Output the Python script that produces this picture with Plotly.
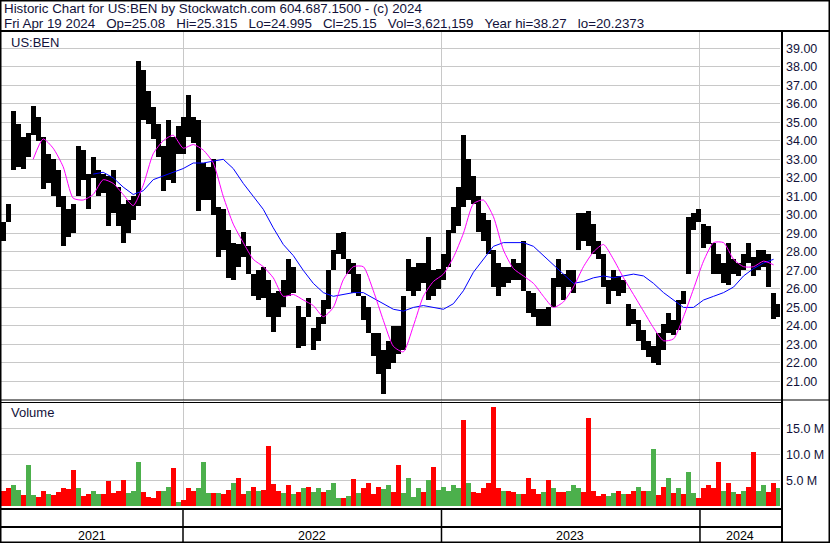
import pandas as pd
import plotly.graph_objects as go

W, H = 830, 543


def px(x):
    return x / W


def py(y):
    return 1 - y / H


# ---------------- data (weekly bins) ----------------
dates = pd.date_range("2021-04-22", "2024-04-21", periods=156)

highs = [29.6, 30.6, 35.6, 34.9, 34.2, 34.4, 35.9, 35.3, 34.2, 33.3,
         33.0, 32.4, 31.0, 30.3, 30.6, 33.7, 33.5, 32.2, 33.1, 32.4,
         32.2, 32.1, 32.4, 31.5, 30.6, 30.8, 31.0, 38.3, 37.8, 36.7,
         35.8, 34.9, 33.7, 35.1, 34.2, 34.8, 35.3, 36.5, 35.3, 35.1,
         32.8, 32.6, 33.0, 30.4, 30.3, 29.2, 28.5, 28.4, 29.1, 28.3,
         26.8, 27.0, 27.2, 26.5, 25.8, 25.9, 26.5, 27.6, 27.2, 25.1,
         24.5, 25.5, 23.9, 24.5, 25.4, 27.0, 28.1, 29.0, 29.1, 27.6,
         27.4, 26.8, 25.6, 25.0, 23.6, 23.6, 22.7, 23.2, 24.0, 24.0,
         25.6, 27.6, 27.2, 27.4, 27.4, 28.8, 27.0, 27.1, 27.9, 29.2,
         30.4, 31.5, 34.3, 33.0, 32.1, 31.0, 30.1, 29.7, 28.1, 27.4,
         27.2, 27.2, 27.6, 27.4, 28.6, 25.9, 25.8, 24.9, 24.9, 25.0,
         26.6, 27.6, 26.8, 27.0, 27.0, 30.1, 30.1, 30.2, 29.5, 28.6,
         27.9, 26.5, 27.0, 26.7, 26.5, 25.2, 24.9, 24.3, 23.8, 23.2,
         22.9, 23.6, 24.1, 24.7, 24.3, 25.4, 25.9, 29.9, 30.1, 30.3,
         29.5, 29.4, 28.5, 27.9, 27.4, 28.5, 27.6, 27.4, 27.9, 28.5,
         27.7, 28.1, 28.1, 27.9, 25.8, 25.2]

lows = [28.6, 29.6, 32.4, 32.6, 32.5, 33.1, 34.3, 34.0, 31.4, 31.7,
        31.0, 30.4, 28.3, 28.8, 29.0, 31.0, 31.9, 30.3, 32.0, 31.0,
        31.2, 29.4, 30.1, 29.4, 28.5, 29.0, 29.7, 30.5, 35.1, 34.9,
        34.1, 33.1, 31.3, 31.9, 31.7, 33.3, 33.3, 34.2, 33.9, 30.2,
        30.8, 30.8, 30.0, 27.7, 28.1, 26.6, 26.5, 27.2, 27.7, 26.8,
        25.6, 25.4, 25.5, 24.5, 23.7, 24.5, 25.0, 25.6, 25.8, 22.8,
        22.9, 24.5, 22.7, 23.2, 24.1, 24.9, 27.0, 27.9, 27.6, 26.8,
        25.8, 25.6, 24.3, 23.6, 22.4, 21.4, 20.3, 21.7, 22.0, 22.5,
        22.7, 25.9, 25.6, 25.9, 26.3, 25.4, 25.6, 26.0, 26.5, 27.2,
        29.0, 29.4, 30.4, 30.8, 30.6, 29.1, 28.6, 27.9, 26.1, 25.6,
        26.1, 26.3, 26.5, 26.5, 25.9, 24.7, 24.5, 24.0, 24.0, 24.0,
        25.0, 26.1, 25.4, 26.1, 25.8, 28.1, 28.6, 28.3, 27.9, 27.6,
        26.1, 25.2, 25.9, 25.6, 25.8, 24.0, 24.1, 23.2, 22.7, 22.3,
        22.0, 21.9, 22.7, 23.6, 23.5, 23.8, 25.2, 26.8, 29.2, 29.6,
        28.2, 28.4, 26.8, 26.8, 26.3, 26.2, 26.8, 26.7, 27.0, 27.4,
        26.7, 27.0, 27.2, 26.1, 24.4, 24.5]

# volume in millions of shares
volumes = [3.0, 3.5, 4.0, 3.2, 2.2, 7.9, 2.2, 1.8, 3.0, 2.3,
           2.2, 2.8, 3.5, 3.3, 7.0, 3.5, 2.0, 2.3, 3.0, 2.3,
           2.3, 4.8, 2.5, 3.0, 5.0, 2.5, 3.0, 8.5, 2.8, 1.8,
           1.6, 3.0, 3.0, 3.8, 7.3, 0.8, 1.2, 3.5, 3.0, 3.5,
           8.5, 2.5, 2.5, 2.5, 2.3, 3.2, 4.5, 5.5, 2.3, 3.0,
           3.8, 3.0, 3.2, 11.5, 4.2, 3.0, 2.6, 4.0, 2.3, 2.8,
           3.5, 3.8, 2.8, 3.5, 2.8, 3.1, 4.5, 1.5, 1.5, 2.0,
           5.2, 2.6, 3.5, 4.5, 2.4, 3.7, 3.4, 4.0, 2.7, 8.0,
           2.5, 5.4, 1.7, 3.5, 2.8, 5.0, 7.5, 3.2, 3.8, 3.0,
           4.0, 3.5, 16.5, 4.5, 2.8, 2.5, 3.5, 4.5, 19.0, 3.5,
           3.0, 3.0, 2.7, 2.4, 2.3, 5.5, 3.3, 2.3, 2.8, 5.0,
           3.5, 2.8, 2.8, 3.0, 4.0, 3.5, 2.7, 17.0, 3.0, 2.0,
           2.4, 2.0, 2.5, 3.0, 2.3, 2.4, 3.0, 3.8, 3.0, 3.0,
           11.0, 2.2, 3.8, 5.5, 2.6, 3.5, 2.4, 6.5, 2.6, 1.6,
           3.5, 4.0, 3.5, 8.5, 3.0, 4.5, 2.7, 2.3, 3.0, 3.8,
           10.5, 3.0, 4.0, 2.8, 4.5, 3.5]

vol_dir = list("RRGGRGGRRG" "RRRRRGRRGG" "RRRRRGGGRR" "RRGGRGRRRG"
               "GGRGRRGRRG" "RGRRRRGRGR" "GRGGRGGGRG" "RGRRRRGGRR"
               "GGGGRGRGGG" "GGRGRRRRRR" "GRRGRRRRGR" "GRRGGGRRRR"
               "RGGRGRRGRG" "GRRGRGRGGR" "RRRRGRGRGR" "RGGRRG")

ma_fast = [33.0, 34.1, 33.6, 32.6, 30.9, 30.8, 31.1, 31.9, 31.7, 31.1,
           30.5, 31.6, 33.3, 34.0, 34.3, 33.6, 33.8, 33.5, 32.8, 31.0,
           29.5, 28.5, 27.6, 27.2, 26.6, 25.6, 25.7, 25.4, 25.1, 24.5,
           25.0, 26.5, 27.2, 27.2, 25.9, 24.3, 22.9, 22.6, 24.0, 25.6,
           26.4, 26.8, 27.7, 29.0, 30.6, 30.8, 29.9, 28.1, 27.1, 26.7,
           26.3, 25.6, 25.0, 25.3, 26.1, 27.2, 28.0, 28.4, 27.6, 26.6,
           25.7, 24.8, 23.9, 23.2, 23.3, 24.5, 26.0, 27.5, 28.5, 28.5,
           27.6, 27.2, 27.2, 27.5, 27.3]
ma_fast_dates = dates[6:155:2]

ma_slow = [32.2, 32.3, 32.0, 31.5, 31.1, 31.3, 31.9, 32.1, 32.3, 32.5,
           32.8, 32.8, 32.9, 33.0, 32.5, 31.7, 31.0, 30.3, 29.3, 28.4,
           27.8, 27.0, 26.3, 25.8, 25.6, 25.7, 25.8, 25.8, 25.5, 25.2,
           24.9, 24.8, 25.0, 25.1, 25.0, 24.9, 25.2, 25.9, 26.9, 27.6,
           28.3, 28.5, 28.5, 28.5, 28.3, 27.8, 27.3, 26.8, 26.3, 26.4,
           26.6, 26.7, 26.6, 26.7, 26.8, 26.7, 26.3, 25.8, 25.4, 25.0,
           25.0, 25.4, 25.6, 25.8, 26.1, 26.7, 27.1, 27.4, 27.6]
ma_slow_dates = dates[18:155:2]

price_ticks = list(range(21, 40))
vol_ticks = [5, 10, 15]
vol_tick_text = ["5.0 M", "10.0 M", "15.0 M"]
year_starts = ["2022-01-01", "2023-01-01", "2024-01-01"]
year_labels = ["2021", "2022", "2023", "2024"]
year_label_dates = ["2021-08-26", "2022-07-02", "2023-07-01", "2024-02-26"]

title1 = "Historic Chart for US:BEN by Stockwatch.com 604.687.1500 - (c) 2024"
title2_items = ["Fri Apr 19 2024", "Op=25.08", "Hi=25.315", "Lo=24.995",
                "Cl=25.15", "Vol=3,621,159", "Year hi=38.27", "lo=20.2373"]

# ---------------- figure ----------------
FONT = "Arial, Liberation Sans, sans-serif"
TXT = "#12123a"
GRID = "#c8c8c8"
DAY_MS = 86400000
BAR_W = 7.1 * DAY_MS

fig = go.Figure()

fig.add_trace(go.Bar(
    x=dates, y=[h - l for h, l in zip(highs, lows)], base=lows,
    width=BAR_W, marker=dict(color="black", line=dict(width=0)),
    xaxis="x", yaxis="y", hoverinfo="skip"))

fig.add_trace(go.Scatter(
    x=ma_slow_dates, y=ma_slow, mode="lines", line=dict(color="#0000ff", width=1),
    xaxis="x", yaxis="y", hoverinfo="skip"))
fig.add_trace(go.Scatter(
    x=ma_fast_dates, y=ma_fast, mode="lines",
    line=dict(color="#ff00ff", width=1, shape="spline", smoothing=0.6),
    xaxis="x", yaxis="y", hoverinfo="skip"))

fig.add_trace(go.Bar(
    x=dates, y=volumes, width=BAR_W,
    marker=dict(color=["#ff0000" if d == "R" else "#4cb04c" for d in vol_dir],
                line=dict(width=0)),
    xaxis="x2", yaxis="y2", hoverinfo="skip"))

xcommon = dict(type="date", range=["2021-04-19", "2024-04-23"],
               domain=[px(1), px(780)], showgrid=True, gridcolor=GRID, gridwidth=1,
               tickvals=year_starts, showticklabels=False, ticks="",
               zeroline=False, showline=False)

fig.update_layout(
    width=W, height=H,
    margin=dict(l=0, r=0, t=0, b=0),
    paper_bgcolor="white", plot_bgcolor="white",
    showlegend=False, bargap=0,
    xaxis=dict(anchor="y", **xcommon),
    xaxis2=dict(anchor="y2", matches="x", **xcommon),
    yaxis=dict(domain=[py(400), py(31)], range=[20.0, 39.93], side="right",
               anchor="x", tickvals=price_ticks,
               ticktext=[f"{v:.2f}" for v in price_ticks],
               showgrid=True, gridcolor=GRID, gridwidth=1, zeroline=False,
               showline=False, ticks="", ticklabelstandoff=5,
               tickfont=dict(family=FONT, size=12.5, color=TXT)),
    yaxis2=dict(domain=[py(506.3), py(401.3)], range=[0, 20.19], side="right",
                anchor="x2", tickvals=vol_ticks, ticktext=vol_tick_text,
                showgrid=True, gridcolor=GRID, gridwidth=1, zeroline=False,
                showline=False, ticks="", ticklabelstandoff=5,
                tickfont=dict(family=FONT, size=12.5, color=TXT)),
)

shapes = []


def hline(y, x0, x1, w):
    shapes.append(dict(type="line", xref="paper", yref="paper",
                       x0=px(x0), x1=px(x1), y0=py(y), y1=py(y),
                       line=dict(color="black", width=w)))


def vline(x, y0, y1, w):
    shapes.append(dict(type="line", xref="paper", yref="paper",
                       x0=px(x), x1=px(x), y0=py(y0), y1=py(y1),
                       line=dict(color="black", width=w)))


hline(31, 0, 830, 2)
hline(400, 0, 830, 1)
hline(402.5, 0, 782, 1)
hline(509, 0, 782, 2)
hline(527, 0, 782, 2)
vline(782, 31, 543, 2)
shapes.append(dict(type="rect", xref="paper", yref="paper", x0=0, x1=1, y0=0, y1=1,
                   line=dict(color="black", width=3)))
for d in year_starts:
    shapes.append(dict(type="line", xref="x", yref="paper", x0=d, x1=d,
                       y0=py(543), y1=py(509), line=dict(color="black", width=1.5)))

annotations = []
annotations.append(dict(text=title1, x=px(2), y=py(9), xref="paper", yref="paper",
                        xanchor="left", yanchor="middle", showarrow=False,
                        font=dict(family=FONT, size=13.33, color=TXT)))
sep = "\u00a0\u00a0\u00a0"
annotations.append(dict(text=sep.join(title2_items), x=px(2), y=py(23),
                        xref="paper", yref="paper", xanchor="left", yanchor="middle",
                        showarrow=False, font=dict(family=FONT, size=13.33, color=TXT)))
annotations.append(dict(text="US:BEN", x=px(9), y=py(42), xref="paper", yref="paper",
                        xanchor="left", yanchor="middle", showarrow=False,
                        font=dict(family=FONT, size=13, color=TXT)))
annotations.append(dict(text="Volume", x=px(9), y=py(413), xref="paper", yref="paper",
                        xanchor="left", yanchor="middle", showarrow=False,
                        font=dict(family=FONT, size=13, color=TXT)))
for lab, d in zip(year_labels, year_label_dates):
    annotations.append(dict(text=lab, x=d, y=py(535.5), xref="x", yref="paper",
                            xanchor="center", yanchor="middle", showarrow=False,
                            font=dict(family=FONT, size=12.5, color="black")))

fig.update_layout(shapes=shapes, annotations=annotations)

fig.write_html("out.html",
               config={"displayModeBar": False, "staticPlot": True},
               post_script="document.body.style.margin='0';"
                           "document.body.style.overflow='hidden';")
